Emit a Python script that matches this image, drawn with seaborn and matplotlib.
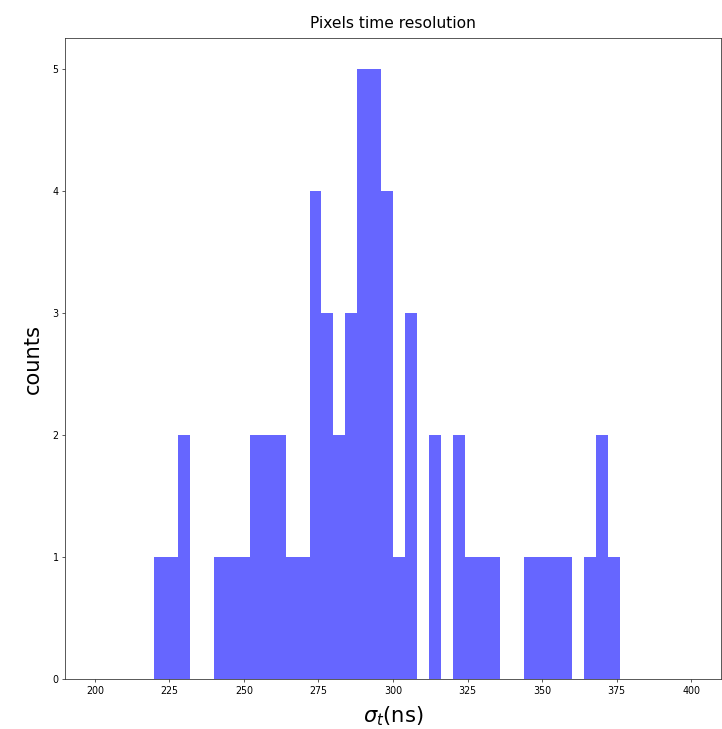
import numpy as np
import pandas as pd
import matplotlib
matplotlib.use("Agg")
import matplotlib.pyplot as plt
import seaborn as sns

# bin left edges (ns) and counts (bin width 4 ns)
bin_left = [220, 224, 228, 240, 244, 248, 252, 256, 260, 264, 268, 272, 276,
            280, 284, 288, 292, 296, 300, 304, 312, 320, 324, 328, 332,
            344, 348, 352, 356, 364, 368, 372]
counts = [1, 1, 2, 1, 1, 1, 2, 2, 2, 1, 1, 4, 3,
          2, 3, 5, 5, 4, 1, 3, 2, 2, 1, 1, 1,
          1, 1, 1, 1, 1, 2, 1]

BIN_WIDTH = 4
N_BINS = 50
RANGE = (200, 400)

df = pd.DataFrame({"sigma_t": np.array(bin_left) + BIN_WIDTH / 2, "w": counts})

sns.set_style("ticks")
plt.rcParams["font.family"] = ["DejaVu Sans"]

fig = plt.figure(figsize=(722 / 72, 729 / 72), dpi=72)
ax = fig.add_axes([65 / 722, 1 - 679 / 729, (721 - 65) / 722, (679 - 38) / 729])

# stepfilled histogram, no seams between neighbouring bins
sns.histplot(data=df, x="sigma_t", weights="w", bins=N_BINS, binrange=RANGE,
             element="step", color="blue", alpha=0.6, linewidth=0, ax=ax)

ax.set_xlim(190, 410)
ax.set_ylim(0, 5.25)
ax.set_title("Pixels time resolution", fontsize=15.5, color="black", pad=10)
ax.set_xlabel(r"$\sigma_t$(ns)", fontsize=21, color="black", labelpad=9)
ax.set_ylabel("counts", fontsize=21, color="black", labelpad=9)
ax.tick_params(labelsize=9.5, length=3, width=0.8, colors="0.2", labelcolor="black")
for s in ax.spines.values():
    s.set_linewidth(0.8)
    s.set_color("0.2")

fig.savefig("out.png", dpi=72)
